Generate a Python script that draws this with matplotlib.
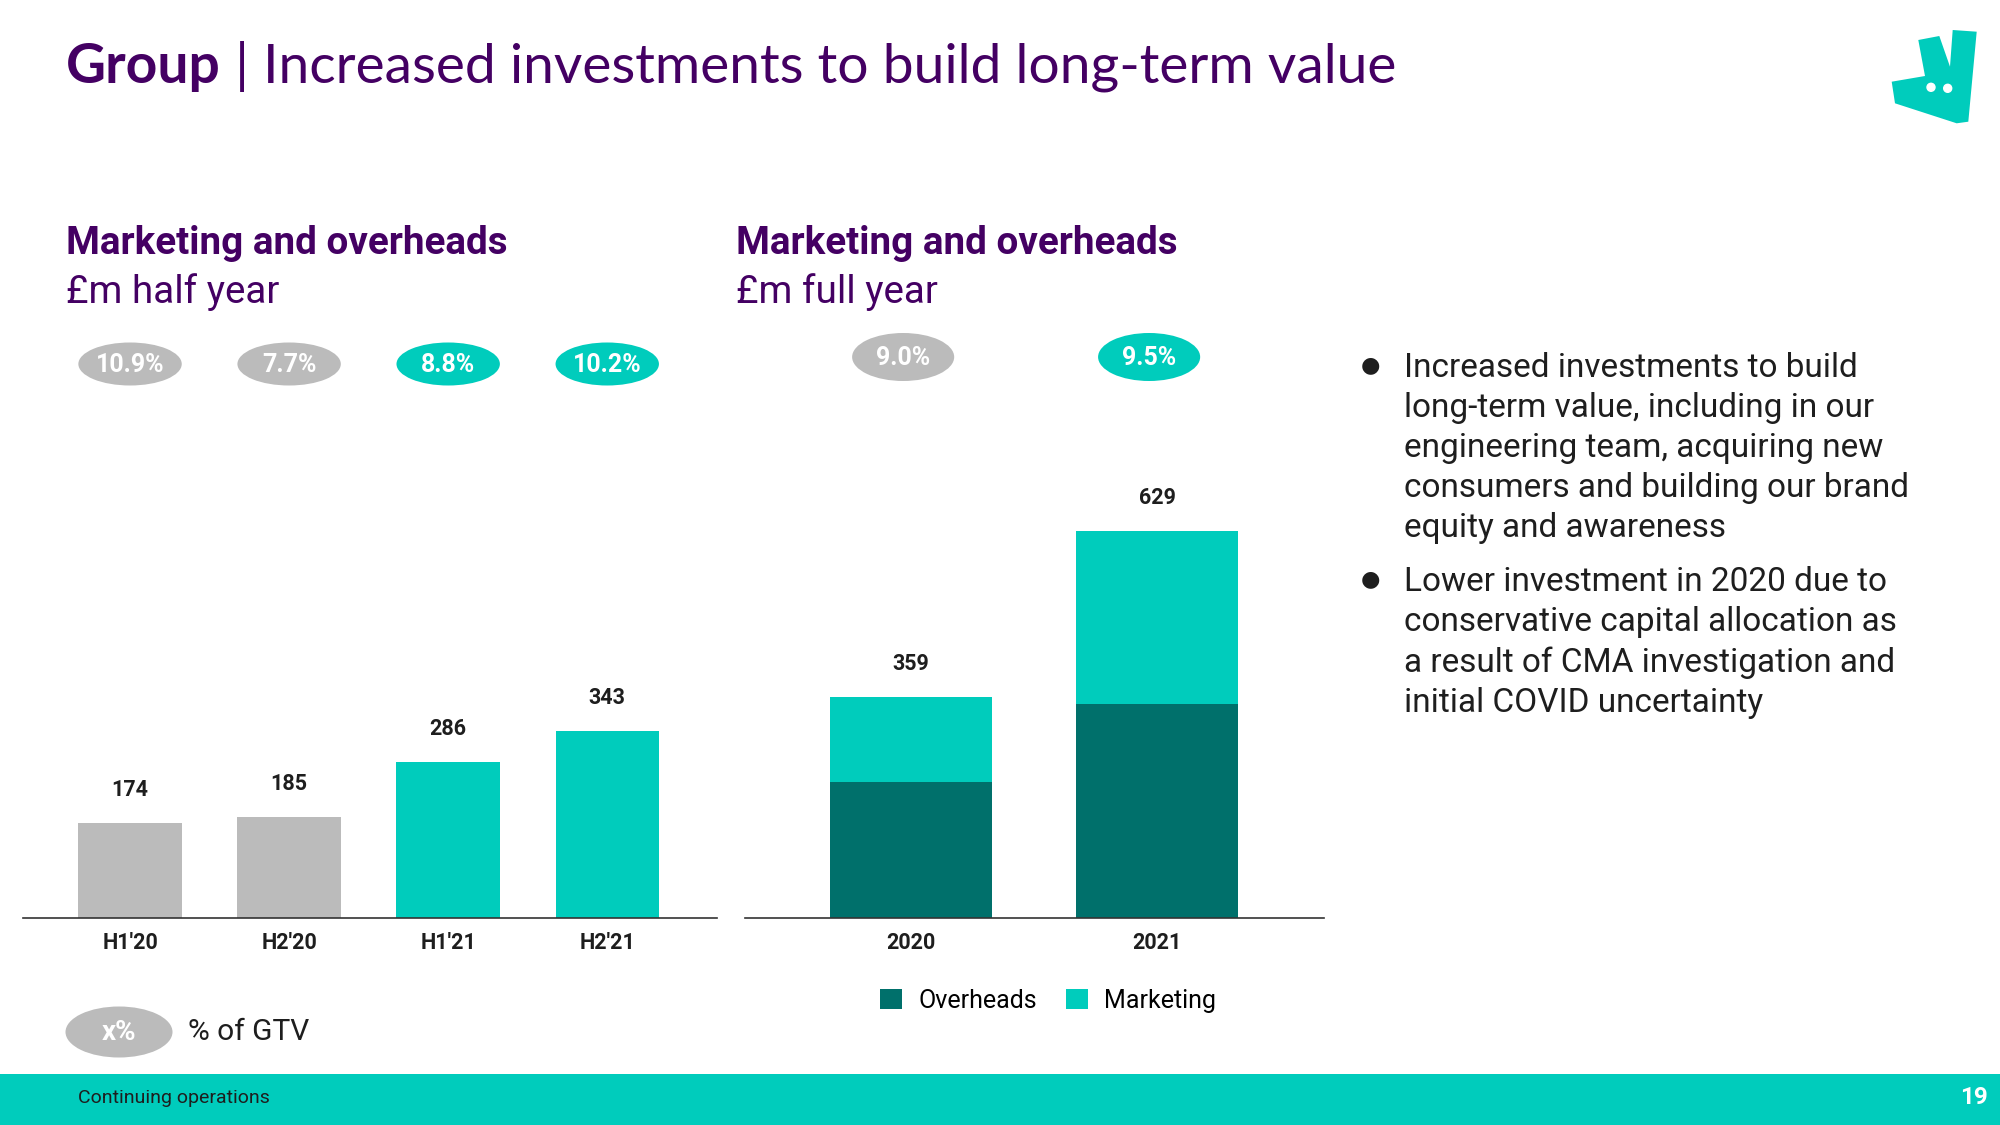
import matplotlib
matplotlib.use("Agg")
import matplotlib.pyplot as plt
from matplotlib.patches import Ellipse, Polygon, Rectangle, Circle
from matplotlib.transforms import blended_transform_factory

plt.rcParams['font.family'] = ['Roboto', 'DejaVu Sans']

PURPLE = "#440063"
TEAL = "#00CCBC"
DARK_TEAL = "#00706B"
GREY = "#BBBBBB"
TXT = "#1E1E1E"

# half year (£m)
half_labels = ["H1'20", "H2'20", "H1'21", "H2'21"]
half_values = [174, 185, 286, 343]
half_gtv = ["10.9%", "7.7%", "8.8%", "10.2%"]
half_colors = [GREY, GREY, TEAL, TEAL]

# full year (£m)
year_labels = ["2020", "2021"]
year_overheads = [221, 348]
year_marketing = [138, 281]
year_totals = [359, 629]
year_gtv = ["9.0%", "9.5%"]
year_pill_colors = [GREY, TEAL]

bullets = [
    "Increased investments to build\nlong-term value, including in our\nengineering team, acquiring new\n"
    "consumers and building our brand\nequity and awareness",
    "Lower investment in 2020 due to\nconservative capital allocation as\na result of CMA investigation and\n"
    "initial COVID uncertainty",
]

W, H = 2000, 1125
fig = plt.figure(figsize=(20, 11.25), dpi=100)

# background axes in pixel coordinates
bg = fig.add_axes([0, 0, 1, 1])
bg.set_xlim(0, W)
bg.set_ylim(H, 0)
bg.axis('off')


def px_axes(x0, x1, ybot, ytop):
    return fig.add_axes([x0 / W, 1 - ybot / H, (x1 - x0) / W, (ybot - ytop) / H])


def clean(ax):
    for s in ["top", "right", "left"]:
        ax.spines[s].set_visible(False)
    ax.spines["bottom"].set_color("#333333")
    ax.spines["bottom"].set_linewidth(1.2)
    ax.set_yticks([])
    ax.tick_params(axis='x', length=0, pad=10)
    ax.patch.set_alpha(0)


# title
t1 = bg.text(66, 67, "Group", fontsize=39.7, fontweight='bold', color=PURPLE,
             family=['Lato', 'DejaVu Sans'], va='center')
bg.annotate(" | Increased investments to build long-term value", xy=(1, 0), xycoords=t1,
            va='bottom', fontsize=39.7, color=PURPLE, family=['Lato', 'DejaVu Sans'])

# logo
logo = [(1891.7, 81.7), (1925, 76), (1918.3, 40), (1939.3, 36), (1950, 66.7), (1952.7, 30),
        (1976.7, 31.7), (1968.3, 121.7), (1956.7, 123.3), (1895, 103.3)]
bg.add_patch(Polygon(logo, closed=True, color=TEAL, lw=0))
bg.add_patch(Circle((1931, 87.3), 4, color='white'))
bg.add_patch(Circle((1947.7, 88.3), 4, color='white'))

# subtitles
for x0, sub in [(66, "£m half year"), (736, "£m full year")]:
    bg.text(x0, 244, "Marketing and overheads", fontsize=27.8, fontweight='bold', color=PURPLE, va='center')
    bg.text(x0, 292, sub, fontsize=27.8, color=PURPLE, va='center')

# left chart: half year
ax1 = px_axes(23, 717, 918, 400)
x1 = range(len(half_labels))
ax1.bar(x1, half_values, width=0.65, color=half_colors)
ax1.set_xlim(-0.673, 3.69)
ax1.set_ylim(0, 518 / 0.546)
clean(ax1)
ax1.set_xticks(list(x1))
ax1.set_xticklabels(half_labels, fontsize=15.5, fontweight='bold', color=TXT)
for i, v in zip(x1, half_values):
    ax1.annotate(str(v), (i, v), xytext=(0, 23.5), textcoords='offset points',
                 ha='center', va='center', fontsize=15.5, fontweight='bold', color=TXT)
tr1 = blended_transform_factory(ax1.transData, bg.transData)
for i, (s, c) in enumerate(zip(half_gtv, half_colors)):
    bg.add_patch(Ellipse((i, 364), 0.65, 43, transform=tr1, color=c, lw=0))
    bg.text(i, 365, s, transform=tr1, ha='center', va='center', fontsize=18,
            fontweight='bold', color='white')

# right chart: full year
ax2 = px_axes(745, 1324, 918, 400)
x2 = range(len(year_labels))
ax2.bar(x2, year_overheads, width=0.655, color=DARK_TEAL, label='Overheads')
ax2.bar(x2, year_marketing, width=0.655, bottom=year_overheads, color=TEAL, label='Marketing')
ax2.set_xlim(-0.675, 1.679)
ax2.set_ylim(0, 518 / 0.616)
clean(ax2)
ax2.set_xticks(list(x2))
ax2.set_xticklabels(year_labels, fontsize=15.5, fontweight='bold', color=TXT)
for i, v in zip(x2, year_totals):
    ax2.annotate(str(v), (i, v), xytext=(0, 23.5), textcoords='offset points',
                 ha='center', va='center', fontsize=15.5, fontweight='bold', color=TXT)
tr2 = blended_transform_factory(ax2.transData, bg.transData)
for i, (s, c) in enumerate(zip(year_gtv, year_pill_colors)):
    bg.add_patch(Ellipse((i - 0.032, 357), 0.415, 48, transform=tr2, color=c, lw=0))
    bg.text(i - 0.032, 358, s, transform=tr2, ha='center', va='center', fontsize=18,
            fontweight='bold', color='white')
ax2.legend(loc='center', bbox_to_anchor=(1048 / W, 1 - 1001 / H), bbox_transform=fig.transFigure,
           ncol=2, frameon=False, fontsize=18, handlelength=0.87, handleheight=0.87,
           handletextpad=0.66, columnspacing=1.17)

# bullets
for y0, txt in zip([366, 580], bullets):
    bg.text(1370, y0, "●", fontsize=16, color=TXT, va='center', ha='center')
    bg.text(1404, y0 - 14, txt, fontsize=24, color=TXT, va='top', linespacing=1.32)

# % of GTV key
bg.add_patch(Ellipse((119, 1032), 107, 51, color=GREY, lw=0))
bg.text(119, 1033, "x%", fontsize=20, fontweight='bold', color='white', ha='center', va='center')
bg.text(188, 1032, "% of GTV", fontsize=21.5, color=TXT, va='center')

# footer band
bg.add_patch(Rectangle((0, 1074), W, H - 1074, color=TEAL, lw=0))
bg.text(78, 1098, "Continuing operations", fontsize=14, color=TXT, va='center')
bg.text(1988, 1097, "19", fontsize=17.5, fontweight='bold', color='white', va='center', ha='right')

fig.savefig("out.png", dpi=100)
